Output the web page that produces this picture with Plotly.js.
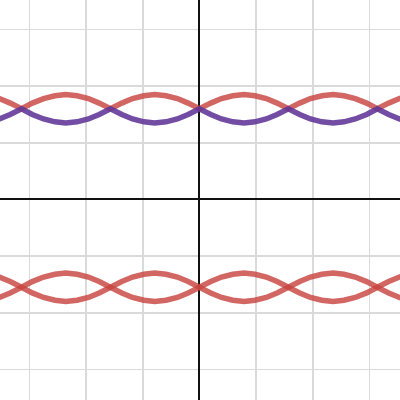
<!DOCTYPE html>
<html>
<head>
<meta charset="utf-8">
<script src="https://cdn.plot.ly/plotly-3.0.1.min.js"></script>
<style>html,body{margin:0;padding:0;background:#fff;}#chart{width:400px;height:400px;}</style>
</head>
<body>
<div id="chart"></div>
<script>
// x positions (units of the grid)
const xs = [-3.73,-3.53,-3.34,-3.14,-2.95,-2.75,-2.55,-2.36,-2.16,-1.96,-1.77,-1.57,-1.37,-1.18,-0.98,-0.79,-0.59,-0.39,-0.20,
            0,0.20,0.39,0.59,0.79,0.98,1.18,1.37,1.57,1.77,1.96,2.16,2.36,2.55,2.75,2.95,3.14,3.34,3.53,3.73];
// upper pair
const topRed = [1.83,1.78,1.70,1.60,1.70,1.78,1.83,1.85,1.83,1.78,1.70,1.60,1.70,1.78,1.83,1.85,1.83,1.78,1.70,
                1.60,1.70,1.78,1.83,1.85,1.83,1.78,1.70,1.60,1.70,1.78,1.83,1.85,1.83,1.78,1.70,1.60,1.70,1.78,1.83];
const topPurple = [1.37,1.42,1.50,1.60,1.50,1.42,1.37,1.35,1.37,1.42,1.50,1.60,1.50,1.42,1.37,1.35,1.37,1.42,1.50,
                   1.60,1.50,1.42,1.37,1.35,1.37,1.42,1.50,1.60,1.50,1.42,1.37,1.35,1.37,1.42,1.50,1.60,1.50,1.42,1.37];
// lower pair
const lowUpper = [-1.32,-1.37,-1.45,-1.55,-1.45,-1.37,-1.32,-1.30,-1.32,-1.37,-1.45,-1.55,-1.45,-1.37,-1.32,-1.30,-1.32,-1.37,-1.45,
                  -1.55,-1.45,-1.37,-1.32,-1.30,-1.32,-1.37,-1.45,-1.55,-1.45,-1.37,-1.32,-1.30,-1.32,-1.37,-1.45,-1.55,-1.45,-1.37,-1.32];
const lowLower = [-1.78,-1.73,-1.65,-1.55,-1.65,-1.73,-1.78,-1.80,-1.78,-1.73,-1.65,-1.55,-1.65,-1.73,-1.78,-1.80,-1.78,-1.73,-1.65,
                  -1.55,-1.65,-1.73,-1.78,-1.80,-1.78,-1.73,-1.65,-1.55,-1.65,-1.73,-1.78,-1.80,-1.78,-1.73,-1.65,-1.55,-1.65,-1.73,-1.78];

const red = 'rgba(199,68,64,0.82)';
const purple = 'rgba(96,52,150,0.88)';
function tr(y, c){ return {x: xs, y: y, mode: 'lines', line: {color: c, width: 5.5, shape: 'linear'}, hoverinfo: 'skip'}; }

const data = [tr(lowUpper, red), tr(lowLower, red), tr(topRed, red), tr(topPurple, purple)];
const axisCommon = {dtick: 1, tick0: 0, showticklabels: false, ticks: '', showgrid: true, gridcolor: '#dadada', gridwidth: 1.5,
                    zeroline: true, zerolinecolor: '#111', zerolinewidth: 2, showline: false, fixedrange: true};
const layout = {
  width: 400, height: 400, margin: {l: 0, r: 0, t: 0, b: 0},
  paper_bgcolor: '#fff', plot_bgcolor: '#fff', showlegend: false,
  xaxis: Object.assign({range: [-3.52, 3.54]}, axisCommon),
  yaxis: Object.assign({range: [-3.54, 3.52]}, axisCommon)
};
Plotly.newPlot('chart', data, layout, {staticPlot: true, displayModeBar: false});
</script>
</body>
</html>
